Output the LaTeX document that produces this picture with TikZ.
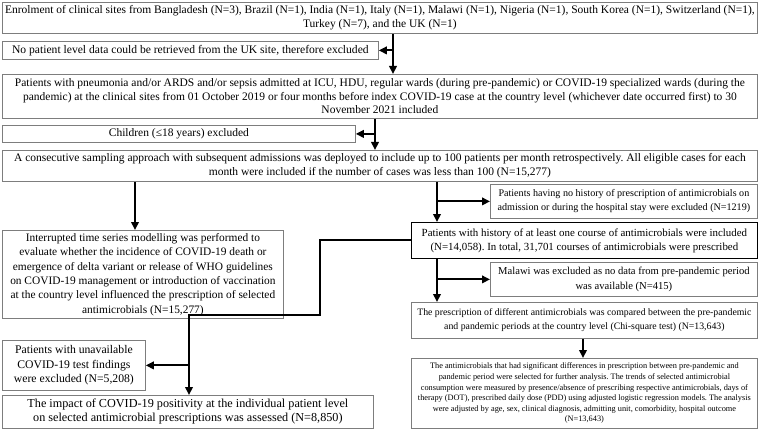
\documentclass[tikz,border=0pt]{standalone}
\usepackage{fontspec}
\setmainfont{Liberation Serif}
\usetikzlibrary{arrows.meta}
\definecolor{boxgray}{RGB}{125,125,125}
\frenchspacing

\begin{document}
\begin{tikzpicture}[x=1pt, y=-1pt, >={Triangle[length=8pt,width=7.5pt]},
   every node/.style={draw=boxgray, line width=0.8pt, inner sep=1pt, align=center, anchor=north west, font=\fontsize{11.5}{13.5}\selectfont},
   link/.style={line width=2pt, black}]

        \useasboundingbox (0,0) rectangle (760,433);

        %Nodes
        \node   (enrol) [minimum width=755, minimum height=31] at (2,2) {Enrolment of clinical sites from Bangladesh (N=3), Brazil (N=1), India (N=1), Italy (N=1), Malawi (N=1), Nigeria (N=1), South Korea (N=1), Switzerland (N=1),\\ Turkey (N=7), and the UK (N=1)};
        \node   (nopatient) [minimum width=376, minimum height=18, font=\fontsize{11.6}{13.5}\selectfont] at (2,41) {No patient level data could be retrieved from the UK site, therefore excluded};
        \node   (patients) [minimum width=755, minimum height=44] at (2,74) {Patients with pneumonia and/or ARDS and/or sepsis admitted at ICU, HDU, regular wards (during pre-pandemic) or COVID-19 specialized wards (during the\\ pandemic) at the clinical sites from 01 October 2019 or four months before index COVID-19 case at the country level (whichever date occurred first) to 30\\ November 2021 included};
        \node   (children) [minimum width=353, minimum height=17] at (2,125) {Children (≤18 years) excluded};
        \node   (sampling) [minimum width=755, minimum height=31] at (2,150) {A consecutive sampling approach with subsequent admissions was deployed to include up to 100 patients per month retrospectively. All eligible cases for each\\ month were included if the number of cases was less than 100 (N=15,277)};
        \node   (nohistory) [minimum width=267, minimum height=34, font=\fontsize{10.1}{14}\selectfont] at (490,184) {Patients having no history of prescription of antimicrobials on\\ admission or during the hospital stay were excluded (N=1219)};
        \node   (its) [minimum width=281, minimum height=88, font=\fontsize{11.4}{14.4}\selectfont] at (2,230) {Interrupted time series modelling was performed to\\ evaluate whether the incidence of COVID-19 death or\\ emergence of delta variant or release of WHO guidelines\\ on COVID-19 management or introduction of vaccination\\ at the country level influenced the prescription of selected\\ antimicrobials (N=15,277)};
        \node   (history) [draw=black, minimum width=346, minimum height=36, font=\fontsize{10.9}{14}\selectfont] at (411,222) {Patients with history of at least one course of antimicrobials were included\\ (N=14,058). In total, 31,701 courses of antimicrobials were prescribed};
        \node   (malawi) [minimum width=267, minimum height=34, font=\fontsize{10.6}{15}\selectfont] at (490,262) {Malawi was excluded as no data from pre-pandemic period\\ was available (N=415)};
        \node   (compare) [minimum width=346, minimum height=36, font=\fontsize{9.8}{14}\selectfont] at (411,302) {The prescription of different antimicrobials was compared between the pre-pandemic\\ and pandemic periods at the country level (Chi-square test) (N=13,643)};
        \node   (nocovidtest) [minimum width=143, minimum height=50, font=\fontsize{11.7}{14.5}\selectfont] at (2,340) {Patients with unavailable\\ COVID-19 test findings\\ were excluded (N=5,208)};
        \node   (trends) [minimum width=346, minimum height=70, font=\fontsize{8.3}{10.6}\selectfont] at (411,358) {The antimicrobials that had significant differences in prescription between pre-pandemic and\\ pandemic period were selected for further analysis. The trends of selected antimicrobial\\ consumption were measured by presence/absence of prescribing respective antimicrobials, days of\\ therapy (DOT), prescribed daily dose (PDD) using adjusted logistic regression models. The analysis\\ were adjusted by age, sex, clinical diagnosis, admitting unit, comorbidity, hospital outcome\\ (N=13,643)};
        \node   (impact) [minimum width=371, minimum height=33, font=\fontsize{12.2}{14}\selectfont] at (2,395) {The impact of COVID-19 positivity at the individual patient level\\ on selected antimicrobial prescriptions was assessed (N=8,850)};

        \coordinate (spinetop) at (393,0);
        \coordinate (spinemid) at (375,0);
        \coordinate (colits) at (135,0);
        \coordinate (colright) at (437,0);
        \coordinate (coltrends) at (583,0);
        \coordinate (bendtop) at (320,315);
        \coordinate (bendleft) at (189,315);

        %Lines
        \draw[link,->] (enrol.south -| spinetop) -- (patients.north -| spinetop);
        \draw[link,->] (spinetop |- nopatient.east) -- (nopatient.east);
        \draw[link,->] (patients.south -| spinemid) -- (sampling.north -| spinemid);
        \draw[link,->] (spinemid |- children.east) -- (children.east);
        \draw[link,->] (sampling.south -| colits) -- (its.north -| colits);
        \draw[link,->] (sampling.south -| colright) -- (history.north -| colright);
        \draw[link,->] (colright |- nohistory.west) -- (nohistory.west);
        \draw[link,->] (history.south -| colright) -- (compare.north -| colright);
        \draw[link,->] (colright |- malawi.west) -- (malawi.west);
        \draw[link,->] (compare.south -| coltrends) -- (trends.north -| coltrends);
        \draw[link,->] (history.west) -| (bendtop) -- (bendleft) -- (bendleft |- impact.north);
        \draw[link,->] (bendleft |- nocovidtest.east) -- (nocovidtest.east);

\end{tikzpicture}
\end{document}
